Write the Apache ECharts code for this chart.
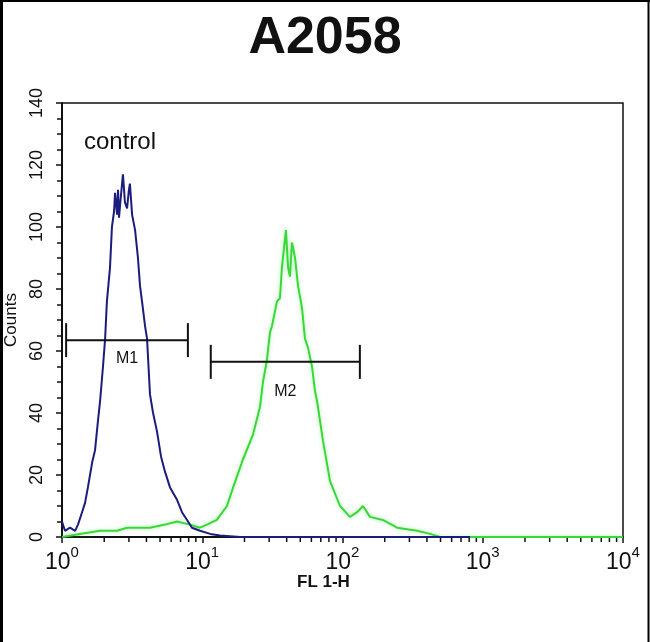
<!DOCTYPE html>
<html>
<head>
<meta charset="utf-8">
<script src="https://cdn.jsdelivr.net/npm/echarts@6/dist/echarts.min.js"></script>
<style>
html,body{margin:0;padding:0;background:#fff;}
#chart{width:650px;height:642px;}
</style>
</head>
<body>
<div id="chart"></div>
<script>
// ---- data ----
const titleText = 'A2058';
const sampleLabel = 'control';
const xTickValues = [1, 10, 100, 1000, 10000];
const yTickValues = [0, 20, 40, 60, 80, 100, 120, 140];
const minorTickValues = [2,3,4,5,6,7,8,9,20,30,40,50,60,70,80,90,200,300,400,500,600,700,800,900,2000,3000,4000,5000,6000,7000,8000,9000];

const blueFL = [1.00,1.05,1.14,1.24,1.30,1.39,1.46,1.53,1.64,1.72,1.81,1.87,1.96,2.03,2.09,2.20,2.27,2.35,2.39,2.47,2.51,2.55,2.63,2.72,2.81,2.91,3.00,3.05,3.16,3.32,3.48,3.60,3.72,3.91,4.04,4.24,4.46,4.76,5.08,5.43,5.89,6.61,7.17,7.79,8.45,9.64,11.4,13.4,18.6,49.8,257,811];
const blueCounts = [5,2,3,2,4,8,11,16,24,28,38,44,55,64,76,87,100,105,111,104,112,103,110,117,108,106,112,114,104,99,90,81,76,68,64,46,40,34,26,21,16,12,8,5.5,3,2,1,0.5,0,0,0,0];

const greenFL = [1.00,1.34,1.87,2.47,2.91,4.24,5.43,6.61,8.18,9.64,10.8,12.7,15.0,16.6,19.5,23.0,25.8,27.1,28.9,30.4,31.4,34.1,35.8,37.0,37.6,39.5,40.9,42.2,43.6,45.9,48.2,51.4,54.0,56.8,60.6,63.7,65.8,72.6,81.5,96.0,113,127,140,157,194,245,340,421,496,10000];
const greenCounts = [0,1,2,2,3,3,4,5,4,3,4,5.5,10,16,25,33,42,50,57,66,68,76,77,87,90,99,87,84,95,90,81,74,64,61,55,47,44,31,18,10,6.5,8,10,6.5,5.5,3,2,1,0,0];

const markerNames = ['M1', 'M2'];
const markerStart = [1.07, 11.5];
const markerEnd = [7.9, 133];
const markerLevel = [63.5, 56.5];
const markerLabelLevel = [57.5, 47];

// ---- chart ----
const FONT = '"Liberation Sans", Arial, sans-serif';
const chart = echarts.init(document.getElementById('chart'), null, {renderer: 'canvas'});

const blueData = blueFL.map((v, i) => [v, blueCounts[i]]);
const greenData = greenFL.map((v, i) => [v, greenCounts[i]]);
const markerData = markerNames.map((n, i) => [markerStart[i], markerEnd[i], markerLevel[i], markerLabelLevel[i], n]);
const minorData = minorTickValues.map(v => [v, 0]);

const option = {
  animation: false,
  backgroundColor: '#ffffff',
  title: {
    text: titleText,
    left: 'center',
    top: 8,
    textStyle: {fontFamily: FONT, fontSize: 52, fontWeight: 'bold', color: '#111'}
  },
  grid: {left: 62, right: 27, top: 103, bottom: 105, containLabel: false, outerBoundsMode: 'none', show: true, borderColor: '#111', borderWidth: 1.5, backgroundColor: '#fff'},
  xAxis: {
    type: 'log',
    logBase: 10,
    min: 1,
    max: 10000,
    splitLine: {show: false},
    axisLine: {show: true, lineStyle: {color: '#111', width: 2}},
    axisTick: {show: true, length: 6, inside: false, lineStyle: {color: '#111', width: 1.5}},
    axisLabel: {
      margin: 8,
      formatter: function (v) {
        if (xTickValues.indexOf(v) < 0) return '';
        return '{b|10}{s|' + Math.round(Math.log10(v)) + '}';
      },
      rich: {
        b: {fontFamily: FONT, fontSize: 23, color: '#111', verticalAlign: 'bottom'},
        s: {fontFamily: FONT, fontSize: 15, color: '#111', padding: [0, 0, 14, 0], verticalAlign: 'bottom'}
      }
    },
    name: '',
  },
  yAxis: {
    type: 'value',
    min: 0,
    max: 140,
    interval: 20,
    splitLine: {show: false},
    axisLine: {show: true, lineStyle: {color: '#111', width: 2}},
    axisTick: {show: true, length: 6, lineStyle: {color: '#111', width: 1.5}},
    minorTick: {show: true, splitNumber: 4, length: 5, lineStyle: {color: '#111', width: 1.5}},
    axisLabel: {
      rotate: 90,
      margin: 16,
      fontFamily: FONT, fontSize: 18, color: '#111',
      formatter: v => (yTickValues.indexOf(v) >= 0 ? String(v) : '')
    },
    name: 'Counts',
    nameLocation: 'middle',
    nameRotate: 90,
    nameGap: 42,
    nameTextStyle: {fontFamily: FONT, fontSize: 17, color: '#111'}
  },
  graphic: [
    {type: 'line', shape: {x1: 1.5, y1: 0, x2: 1.5, y2: 642}, style: {stroke: '#000', lineWidth: 3}, silent: true},
    {type: 'line', shape: {x1: 0, y1: 1, x2: 650, y2: 1}, style: {stroke: '#000', lineWidth: 2}, silent: true},
    {type: 'line', shape: {x1: 648.5, y1: 0, x2: 648.5, y2: 642}, style: {stroke: '#000', lineWidth: 2}, silent: true},
    {type: 'text', left: 84, top: 130, style: {text: sampleLabel, fontFamily: FONT, fontSize: 24, fill: '#111'}},
    {type: 'text', left: 297, top: 574, style: {text: 'FL 1-H', fontFamily: FONT, fontSize: 17, fontWeight: 'bold', fill: '#111'}}
  ],
  series: [
    {
      type: 'custom',
      name: 'minorTicks',
      clip: false,
      silent: true,
      z: 1,
      data: minorData,
      renderItem: function (params, api) {
        const p = api.coord([api.value(0), 0]);
        return {type: 'line', shape: {x1: p[0], y1: p[1], x2: p[0], y2: p[1] + 5}, style: {stroke: '#111', lineWidth: 1.5}};
      }
    },
    {
      type: 'line',
      name: 'stained',
      data: greenData,
      showSymbol: false,
      clip: true,
      z: 3,
      lineStyle: {color: '#37d837', width: 2, shadowColor: 'rgba(80,230,80,0.45)', shadowBlur: 4}
    },
    {
      type: 'line',
      name: 'control',
      data: blueData,
      showSymbol: false,
      clip: true,
      z: 4,
      lineStyle: {color: '#1c1c7c', width: 2}
    },
    {
      type: 'custom',
      name: 'markers',
      clip: false,
      z: 5,
      data: markerData,
      renderItem: function (params, api) {
        const a = api.coord([api.value(0), api.value(2)]);
        const b = api.coord([api.value(1), api.value(2)]);
        const mid = Math.sqrt(api.value(0) * api.value(1));
        const l = api.coord([mid, api.value(3)]);
        const cap = 17;
        const st = {stroke: '#111', lineWidth: 2};
        return {
          type: 'group',
          children: [
            {type: 'line', shape: {x1: a[0], y1: a[1], x2: b[0], y2: b[1]}, style: st},
            {type: 'line', shape: {x1: a[0], y1: a[1] - cap, x2: a[0], y2: a[1] + cap}, style: st},
            {type: 'line', shape: {x1: b[0], y1: b[1] - cap, x2: b[0], y2: b[1] + cap}, style: st},
            {type: 'text', x: l[0], y: l[1], style: {text: markerData[params.dataIndex][4], fontFamily: FONT, fontSize: 16, fill: '#111', align: 'center', verticalAlign: 'middle'}}
          ]
        };
      }
    }
  ]
};
chart.setOption(option);
</script>
</body>
</html>
